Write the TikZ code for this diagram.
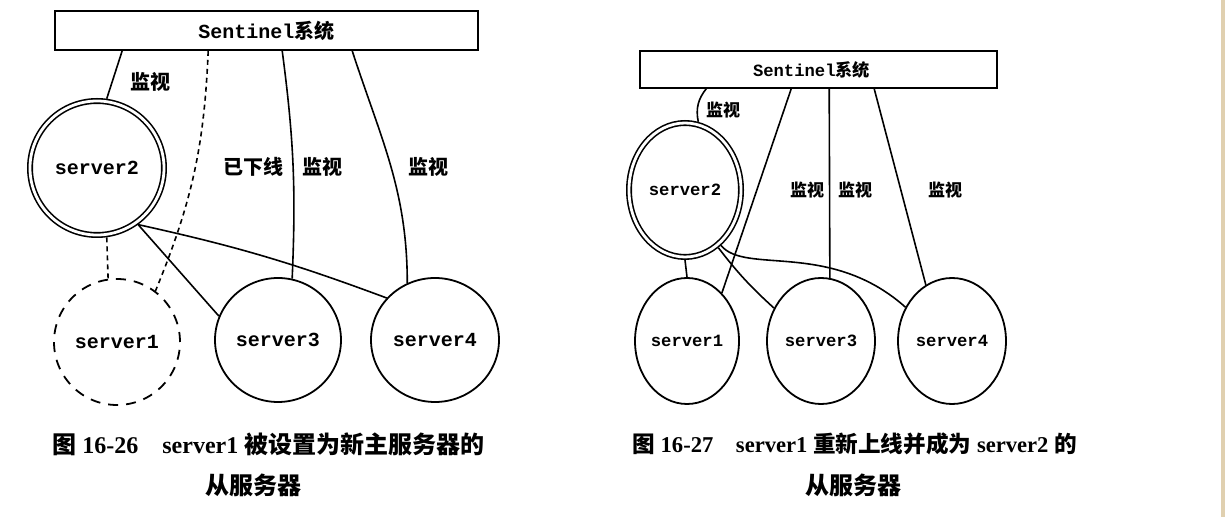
\documentclass[tikz,border=0pt]{standalone}
\usepackage{fontspec}
\setmainfont{Liberation Serif}
\newfontfamily\mono{Liberation Mono}
\newfontfamily\cjk{Noto Sans CJK SC}
\newcommand{\zh}[1]{{\cjk #1}}
\usetikzlibrary{shapes.geometric,calc}
\definecolor{edgebeige}{RGB}{224,208,176}

\tikzset{
  sentinel/.style={draw, line width=0.8pt, inner sep=0pt, font=\mono\bfseries\fontsize{10}{12}\selectfont},
  server/.style={draw, ellipse, line width=0.9pt, inner sep=0pt, font=\mono\bfseries\fontsize{10}{12}\selectfont},
  small/.style={font=\mono\bfseries\fontsize{8.6}{10}\selectfont},
  master/.style={server, double, line width=0.8pt, double distance=1.4pt, outer sep=1.5pt},
  offline/.style={server, dash pattern=on 5pt off 4pt},
  watch/.style={font=\cjk\bfseries\fontsize{10}{12}\selectfont},
  smallwatch/.style={font=\cjk\bfseries\fontsize{8.5}{10}\selectfont},
  caption/.style={inner sep=0pt, font=\bfseries\fontsize{12}{14}\selectfont},
  smallcaption/.style={caption, font=\bfseries\fontsize{11.3}{13}\selectfont},
  link/.style={line width=0.8pt},
  gone/.style={link, dash pattern=on 2.5pt off 2pt},
}

\begin{document}
\begin{tikzpicture}[x=0.5pt, y=-0.5pt]
  \useasboundingbox (0,0) rectangle (1225,517);
  \fill[edgebeige] (1221,0) rectangle (1225,517);

  % figure 16-26
  \node[sentinel, minimum width=211.5pt, minimum height=19.5pt] (senL) at (266.5,30.5) {Sentinel\zh{系统}};
  \node[master, minimum width=67pt, minimum height=67pt] (m2L) at (97,168) {server2};
  \node[offline, minimum width=63pt, minimum height=63pt] (s1L) at (117,342) {server1};
  \node[server, minimum width=63pt, minimum height=62pt] (s3L) at (278,340) {server3};
  \node[server, minimum width=64pt, minimum height=62pt] (s4L) at (435,340) {server4};

  \draw[link] ($(senL.south west)+(68,0)$) -- (m2L.82);
  \draw[gone] ($(senL.south west)+(154,0)$) to[bend left=10] (s1L.53);
  \draw[gone] (m2L.-82) -- (s1L.98);
  \draw[link] ($(senL.south west)+(228,0)$) to[bend left=5] (s3L.77);
  \draw[link] ($(senL.south west)+(298,0)$) to[out=-72, in=90] (s4L.116);
  \draw[link] (m2L.-54) -- (s3L.158);
  \draw[link] (m2L.-54) to[bend left=4] (s4L.139);

  \node[watch] (w1L) at (150,82) {监视};
  \node[watch] (offL) at (253,167) {已下线};
  \node[watch] (w3L) at (322,167) {监视};
  \node[watch] (w4L) at (428,167) {监视};

  % figure 16-27
  \node[sentinel, small, minimum width=178.5pt, minimum height=18.5pt] (senR) at (818.5,69.5) {Sentinel\zh{系统}\kern7pt};
  \node[master, small, minimum width=56pt, minimum height=67pt] (m2R) at (685,190) {server2};
  \node[server, small, minimum width=52pt, minimum height=63pt] (s1R) at (687,341) {server1};
  \node[server, small, minimum width=54pt, minimum height=63pt] (s3R) at (821,341) {server3};
  \node[server, small, minimum width=54pt, minimum height=63pt] (s4R) at (952,341) {server4};

  \draw[link] ($(senR.south west)+(67,0)$) to[bend right=25] (m2R.79);
  \draw[link] ($(senR.south west)+(152,0)$) -- (s1R.54);
  \draw[link] ($(senR.south west)+(190,0)$) -- (s3R.82);
  \draw[link] ($(senR.south west)+(235,0)$) -- (s4R.115);
  \draw[link] (m2R.south) -- (s1R.north);
  \draw[link] (m2R.-60) to[bend right=5] (s3R.145);
  \draw[link] (m2R.-57) .. controls (745,275) and (830,240) .. (s4R.144);

  \node[smallwatch] (w1R) at (723,110) {监视};
  \node[smallwatch] (w2R) at (807,190) {监视};
  \node[smallwatch] (w3R) at (855,190) {监视};
  \node[smallwatch] (w4R) at (945,190) {监视};

  % captions
  \node[caption, anchor=west] (capL) at (52,444) {\zh{图} 16-26\quad server1 \zh{被设置为新主服务器的}};
  \node[caption] (capL2) at (253,485) {\zh{从服务器}};
  \node[smallcaption, anchor=west] (capR) at (632,444) {\zh{图} 16-27\quad server1 \zh{重新上线并成为} server2 \zh{的}};
  \node[caption] (capR2) at (853,485) {\zh{从服务器}};
\end{tikzpicture}
\end{document}
